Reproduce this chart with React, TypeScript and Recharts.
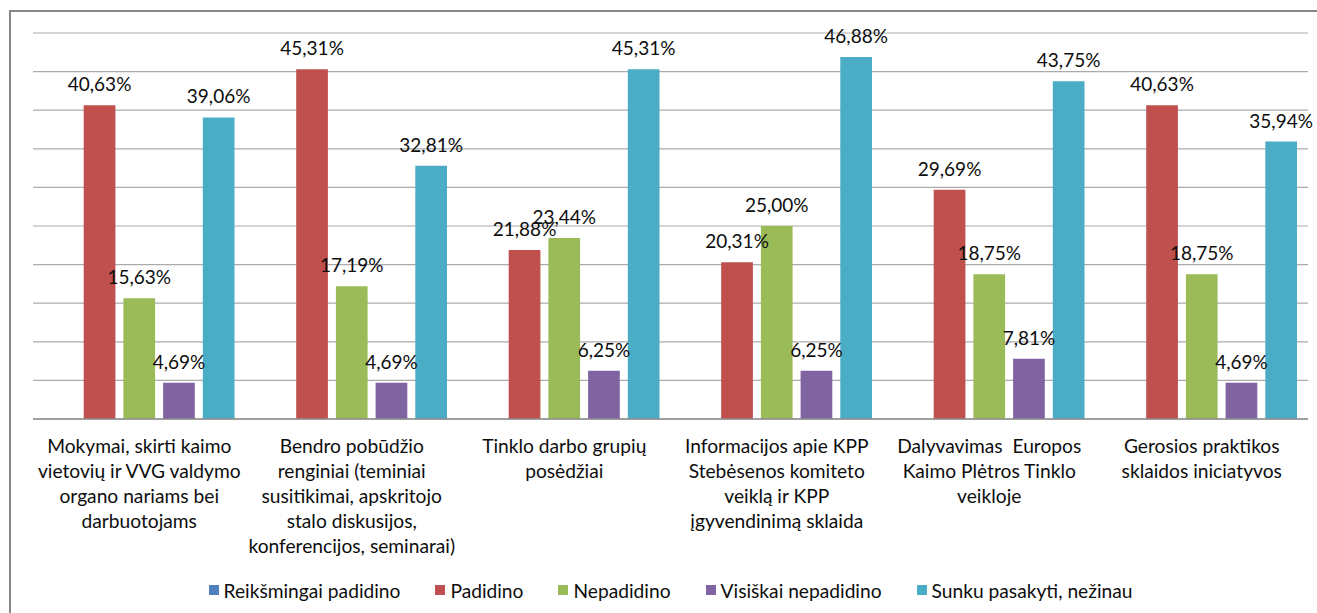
import React from 'react';
import { BarChart, Bar, XAxis, YAxis, CartesianGrid, LabelList, Legend } from 'recharts';

const categories = [
  'Mokymai, skirti kaimo\nvietovių ir VVG valdymo\norgano nariams bei\ndarbuotojams',
  'Bendro pobūdžio\nrenginiai (teminiai\nsusitikimai, apskritojo\nstalo diskusijos,\nkonferencijos, seminarai)',
  'Tinklo darbo grupių\nposėdžiai',
  'Informacijos apie KPP\nStebėsenos komiteto\nveiklą ir KPP\nįgyvendinimą sklaida',
  'Dalyvavimas  Europos\nKaimo Plėtros Tinklo\nveikloje',
  'Gerosios praktikos\nsklaidos iniciatyvos',
];

const reiksmingai = [0, 0, 0, 0, 0, 0];
const padidino = [40.63, 45.31, 21.88, 20.31, 29.69, 40.63];
const nepadidino = [15.63, 17.19, 23.44, 25.0, 18.75, 18.75];
const visiskai = [4.69, 4.69, 6.25, 6.25, 7.81, 4.69];
const sunku = [39.06, 32.81, 45.31, 46.88, 43.75, 35.94];

const seriesNames = [
  'Reikšmingai padidino',
  'Padidino',
  'Nepadidino',
  'Visiškai nepadidino',
  'Sunku pasakyti, nežinau',
];
const seriesColors = ['#4F81BD', '#C0504D', '#9BBB59', '#8064A2', '#4BACC6'];
const yTicks = [0, 5, 10, 15, 20, 25, 30, 35, 40, 45, 50];

const seriesValues = [reiksmingai, padidino, nepadidino, visiskai, sunku];
const keys = ['s0', 's1', 's2', 's3', 's4'];

const data = categories.map((name, i) => {
  const row: any = { name };
  keys.forEach((k, j) => {
    row[k] = seriesValues[j][i];
  });
  return row;
});

const FONT = 'Lato, "Noto Sans", sans-serif';

const fmt = (v: any) => (typeof v === 'number' ? v.toFixed(2).replace('.', ',') + '%' : '');

const CategoryTick = (props: any) => {
  const { x, y, payload } = props;
  const lines = String(payload.value).split('\n');
  return (
    <g>
      {lines.map((l: string, i: number) => (
        <text
          key={i}
          x={x}
          y={y + 26 + i * 25}
          textAnchor="middle"
          fill="#0d0d0d"
          fontSize={19.2}
          fontFamily={FONT}
          style={{ whiteSpace: 'pre' }}
        >
          {l}
        </text>
      ))}
    </g>
  );
};

const LegendContent = () => (
  <div
    style={{
      display: 'flex',
      justifyContent: 'center',
      alignItems: 'center',
      height: 30,
      fontFamily: FONT,
      fontSize: 19.2,
      color: '#0d0d0d',
    }}
  >
    {seriesNames.map((n, i) => (
      <div key={n} style={{ display: 'flex', alignItems: 'center', marginRight: i < seriesNames.length - 1 ? 35 : 0 }}>
        <div style={{ width: 10, height: 10, background: seriesColors[i], marginRight: 5 }} />
        <span style={{ whiteSpace: 'nowrap' }}>{n}</span>
      </div>
    ))}
  </div>
);

export default function App() {
  return (
    <div style={{ position: 'fixed', left: 0, top: 0, width: 1317, height: 613, overflow: 'hidden', background: '#fff' }}>
      <div
        style={{
          position: 'absolute',
          left: 9,
          top: 10,
          width: 1400,
          height: 700,
          border: '2px solid #878787',
          boxSizing: 'border-box',
        }}
      />
      <div style={{ position: 'absolute', left: 0, top: 0 }}>
        <BarChart
          width={1317}
          height={613}
          data={data}
          margin={{ top: 33, right: 9, left: 33, bottom: 8 }}
          barSize={31.7}
          barGap={8}
        >
          <CartesianGrid vertical={false} stroke="#ababab" strokeWidth={1.2} />
          <YAxis hide domain={[0, 50]} ticks={yTicks} type="number" />
          <XAxis
            dataKey="name"
            interval={0}
            tickLine={false}
            axisLine={{ stroke: '#8c8c8c', strokeWidth: 1.5 }}
            height={156}
            tick={<CategoryTick />}
          />
          <Legend verticalAlign="bottom" content={<LegendContent />} />
          {keys.map((k, j) => (
            <Bar key={k} dataKey={k} name={seriesNames[j]} fill={seriesColors[j]} isAnimationActive={false}>
              {j > 0 && (
                <LabelList
                  dataKey={k}
                  position="top"
                  offset={14}
                  formatter={fmt}
                  fill="#0d0d0d"
                  fontSize={19}
                  fontFamily={FONT}
                />
              )}
            </Bar>
          ))}
        </BarChart>
      </div>
    </div>
  );
}
